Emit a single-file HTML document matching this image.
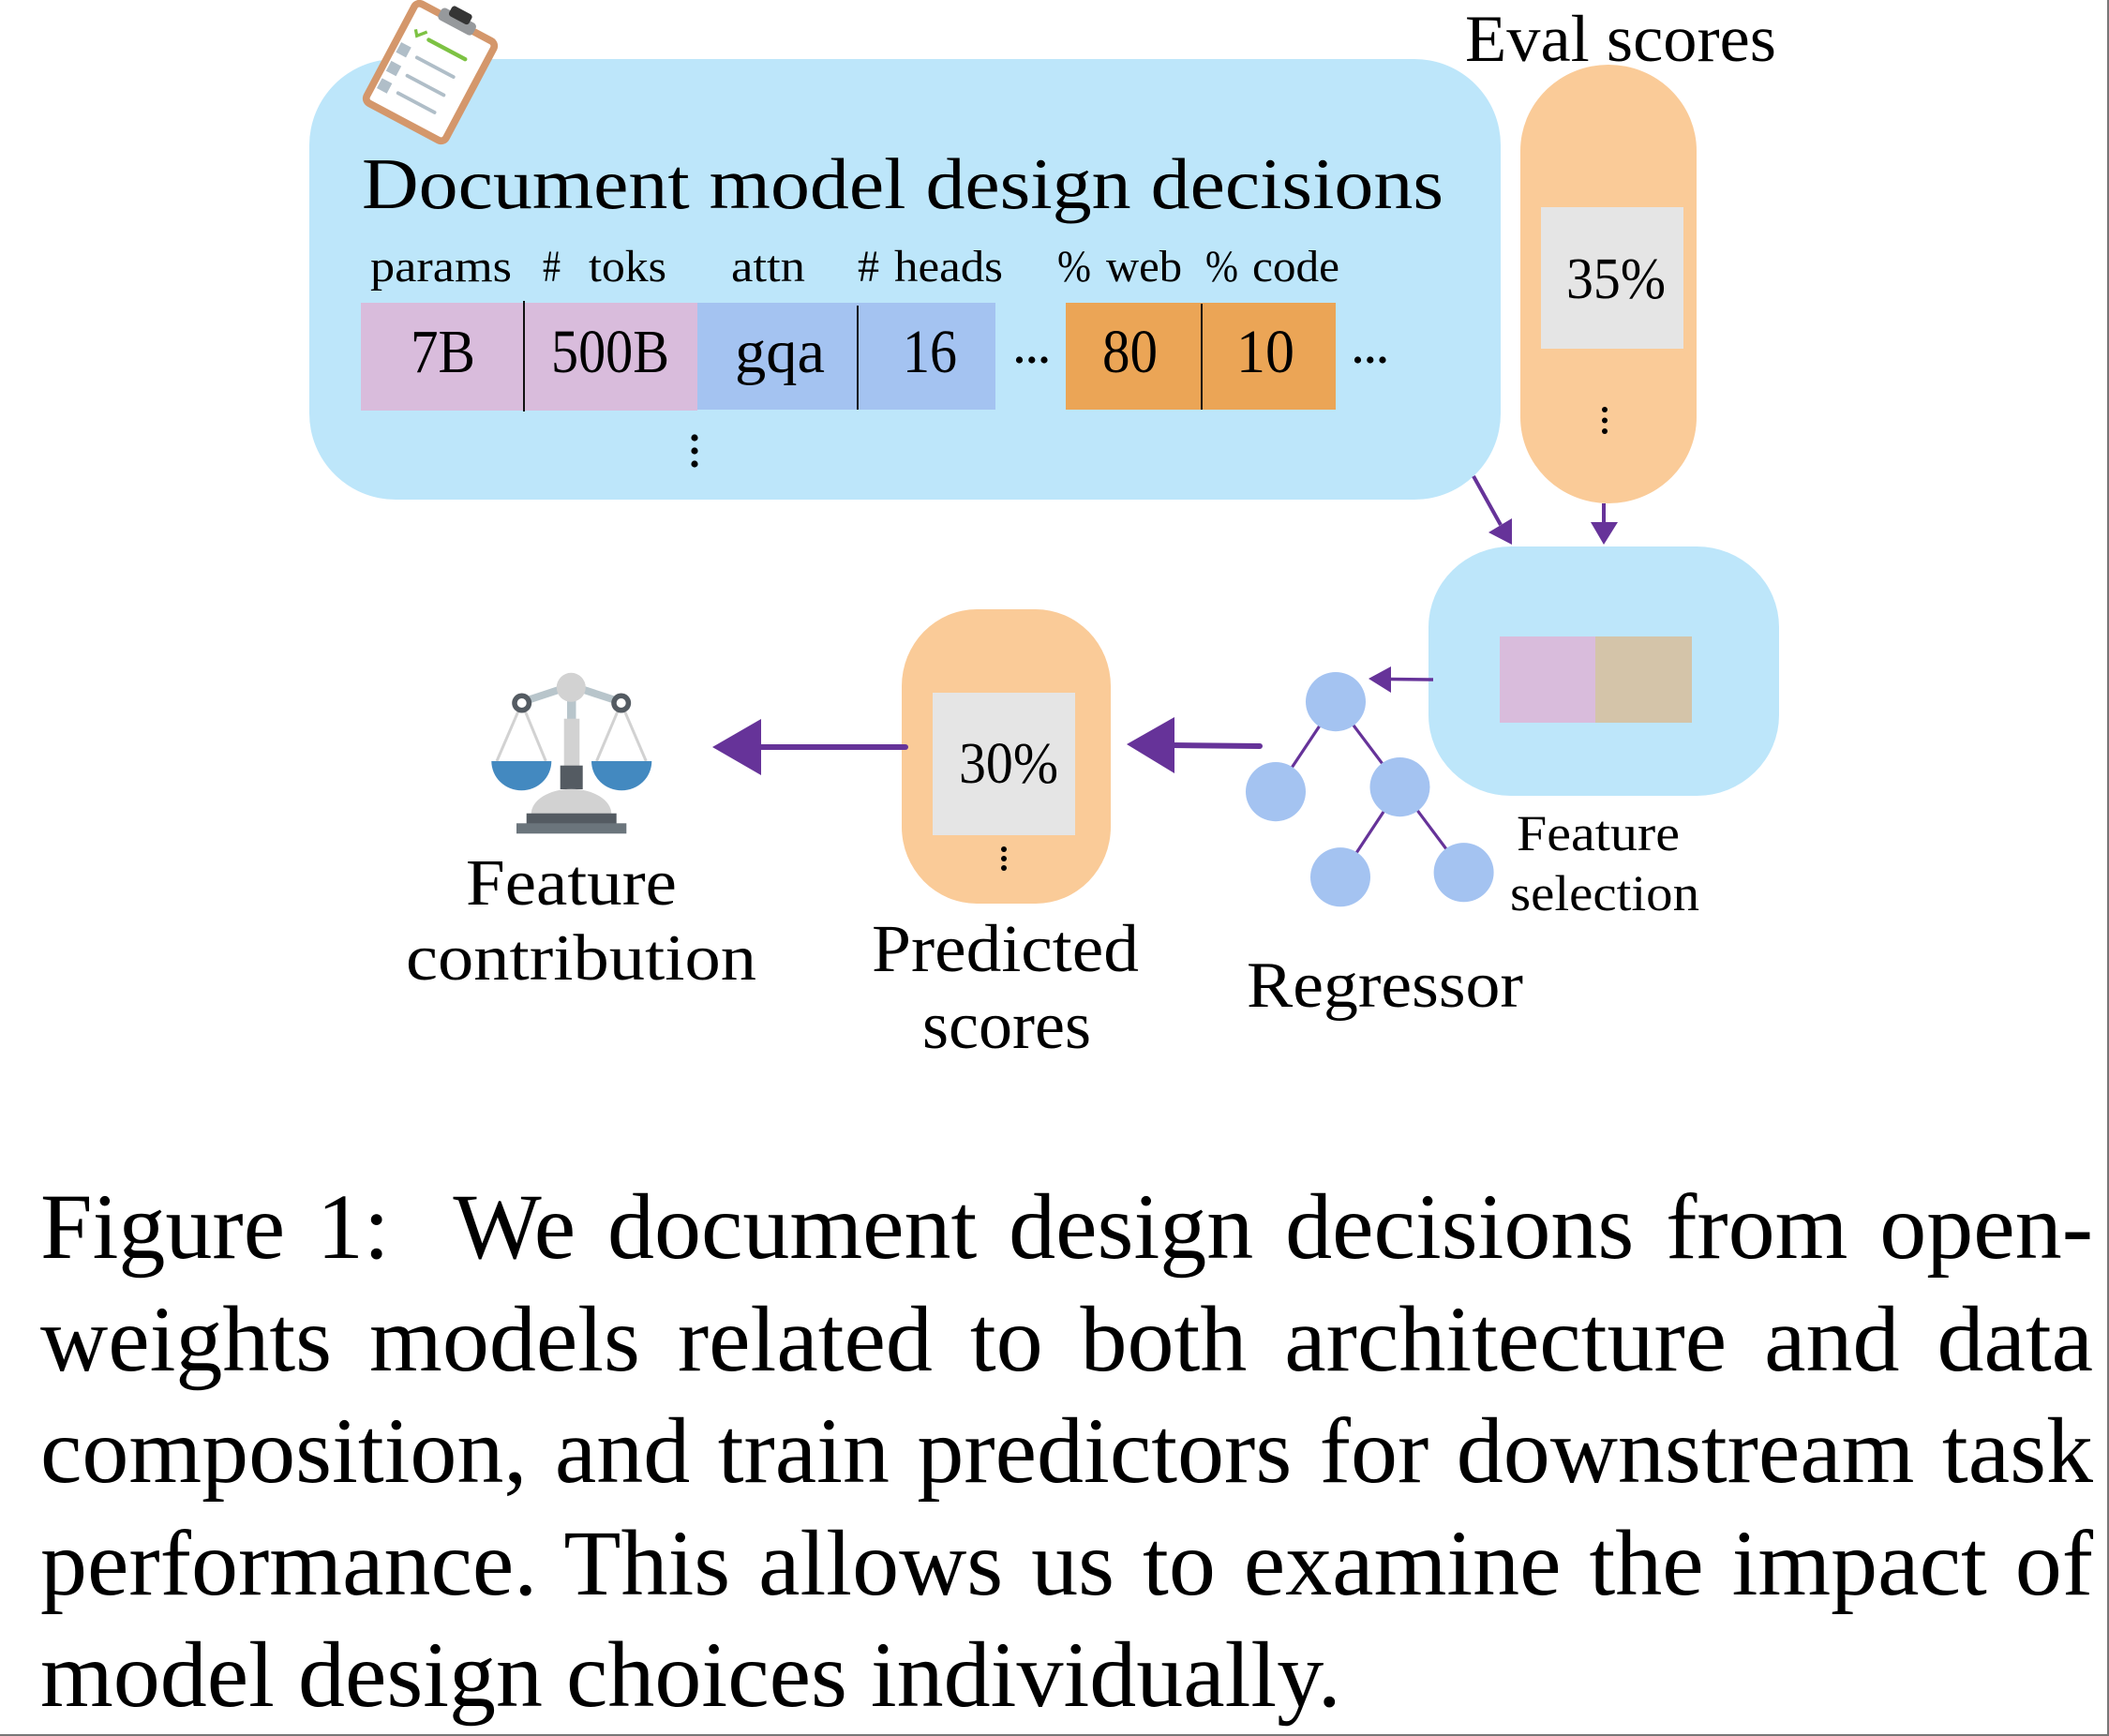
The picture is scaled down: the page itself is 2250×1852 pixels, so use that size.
<!DOCTYPE html>
<html>
<head>
<meta charset="utf-8">
<style>
html,body{margin:0;padding:0;background:#fff}
body{width:2250px;height:1852px;position:relative;overflow:hidden}
svg{position:absolute;left:0;top:0}
.cap{position:absolute;left:43px;width:2190px;font-family:"Liberation Serif","Times New Roman",serif;font-size:100px;line-height:100px;height:100px;white-space:nowrap;text-align:justify;text-align-last:justify;color:#000}
.cap.last{text-align:left;text-align-last:left}
.bR{position:absolute;right:0;top:0;width:2px;height:1852px;background:#777}
.bB{position:absolute;left:0;bottom:0;width:2250px;height:2px;background:#777}
</style>
</head>
<body>
<svg width="2250" height="1852" viewBox="0 0 2250 1852" xmlns="http://www.w3.org/2000/svg">
  <g font-family="'Liberation Serif', 'Times New Roman', serif" fill="#000">
  <!-- Big blue box -->
  <rect x="330" y="63" width="1271" height="470" rx="92" ry="92" fill="#bde6fa"/>

  <!-- Title -->
  <text x="386" y="222" font-size="77" textLength="1154" lengthAdjust="spacingAndGlyphs">Document model design decisions</text>

  <!-- Column labels -->
  <g font-size="48">
    <text x="395" y="300" textLength="151" lengthAdjust="spacingAndGlyphs">params</text>
    <text x="579" y="300" textLength="19" lengthAdjust="spacingAndGlyphs">#</text>
    <text x="628" y="300" textLength="83" lengthAdjust="spacingAndGlyphs">toks</text>
    <text x="780" y="300" textLength="79" lengthAdjust="spacingAndGlyphs">attn</text>
    <text x="915" y="300" textLength="23" lengthAdjust="spacingAndGlyphs">#</text>
    <text x="954" y="300" textLength="116" lengthAdjust="spacingAndGlyphs">heads</text>
    <text x="1128" y="300" textLength="36" lengthAdjust="spacingAndGlyphs">%</text>
    <text x="1180" y="300" textLength="81" lengthAdjust="spacingAndGlyphs">web</text>
    <text x="1286" y="300" textLength="35" lengthAdjust="spacingAndGlyphs">%</text>
    <text x="1336" y="300" textLength="93" lengthAdjust="spacingAndGlyphs">code</text>
  </g>

  <!-- Cells -->
  <rect x="385" y="323" width="359" height="115" fill="#d9bcdc"/>
  <rect x="744" y="323" width="318" height="114" fill="#a4c3f1"/>
  <rect x="1137" y="323" width="288" height="114" fill="#eba556"/>
  <line x1="559" y1="321" x2="559" y2="439" stroke="#111" stroke-width="2"/>
  <line x1="915" y1="326" x2="915" y2="437" stroke="#111" stroke-width="2"/>
  <line x1="1282" y1="324" x2="1282" y2="437" stroke="#111" stroke-width="2"/>

  <g font-size="66">
    <text x="438" y="397" textLength="69" lengthAdjust="spacingAndGlyphs">7B</text>
    <text x="588" y="397" textLength="126" lengthAdjust="spacingAndGlyphs">500B</text>
    <text x="784" y="397" textLength="96" lengthAdjust="spacingAndGlyphs">gqa</text>
    <text x="963" y="397" textLength="58" lengthAdjust="spacingAndGlyphs">16</text>
    <text x="1176" y="397" textLength="59" lengthAdjust="spacingAndGlyphs">80</text>
    <text x="1319" y="397" textLength="62" lengthAdjust="spacingAndGlyphs">10</text>
  </g>

  <!-- horizontal ellipses -->
  <circle cx="1087.5" cy="384" r="3.6"/><circle cx="1100.8" cy="384" r="3.6"/><circle cx="1114" cy="384" r="3.6"/>
  <circle cx="1448.5" cy="384" r="3.6"/><circle cx="1461.8" cy="384" r="3.6"/><circle cx="1475" cy="384" r="3.6"/>
  <!-- vertical dots big box -->
  <circle cx="741" cy="467" r="3.6"/><circle cx="741" cy="481" r="3.6"/><circle cx="741" cy="495" r="3.6"/>

  <!-- Clipboard icon -->
  <g transform="translate(459,77) rotate(28) scale(1.1)">
    <rect x="-47" y="-58" width="94" height="116" rx="9" ry="9" fill="#d4976b"/>
    <rect x="-40" y="-51" width="80" height="102" rx="2" fill="#ffffff"/>
    <rect x="-19" y="-62" width="38" height="13" rx="4" fill="#96999c"/>
    <rect x="-11" y="-68" width="22" height="11" rx="3" fill="#353535"/>
    <polyline points="-32,-30 -28,-25 -21,-33" fill="none" stroke="#7dc243" stroke-width="3"/>
    <line x1="-16" y1="-27" x2="24" y2="-27" stroke="#7dc243" stroke-width="4" stroke-linecap="round"/>
    <rect x="-38.5" y="-12.5" width="11" height="11" fill="#b0bec8"/>
    <line x1="-18" y1="-6.5" x2="22" y2="-6.5" stroke="#b0bec8" stroke-width="3.5" stroke-linecap="round"/>
    <rect x="-38.5" y="8" width="11" height="11" fill="#b0bec8"/>
    <line x1="-18" y1="13.5" x2="22" y2="13.5" stroke="#b0bec8" stroke-width="3.5" stroke-linecap="round"/>
    <rect x="-38.5" y="27" width="11" height="11" fill="#b0bec8"/>
    <line x1="-18" y1="32.5" x2="22" y2="32.5" stroke="#b0bec8" stroke-width="3.5" stroke-linecap="round"/>
  </g>

  <!-- Eval scores -->
  <text x="1563" y="65" font-size="71" textLength="332" lengthAdjust="spacingAndGlyphs">Eval scores</text>
  <rect x="1622" y="69" width="188" height="468" rx="94" ry="92" fill="#facb98"/>
  <rect x="1644" y="221" width="152" height="151" fill="#e5e5e5"/>
  <text x="1671" y="318" font-size="62" textLength="106" lengthAdjust="spacingAndGlyphs">35%</text>
  <circle cx="1712" cy="437" r="3"/><circle cx="1712" cy="448.5" r="3"/><circle cx="1712" cy="460" r="3"/>

  <!-- Arrows into feature selection -->
  <g stroke="#663399" stroke-width="4" fill="none">
    <line x1="1572" y1="508" x2="1601" y2="560"/>
    <line x1="1711" y1="537" x2="1711" y2="559"/>
  </g>
  <polygon points="1613,581 1613,553 1588,568" fill="#663399"/>
  <polygon points="1697,557 1726,557 1711,581" fill="#663399"/>

  <!-- Feature selection box -->
  <rect x="1524" y="583" width="374" height="266" rx="88" ry="86" fill="#bde6fa"/>
  <rect x="1600" y="679" width="102" height="92" fill="#d9bcdc"/>
  <rect x="1702" y="679" width="103" height="92" fill="#d4c4a9"/>
  <text x="1618" y="907" font-size="54" textLength="174" lengthAdjust="spacingAndGlyphs">Feature</text>
  <text x="1611" y="971" font-size="54" textLength="202" lengthAdjust="spacingAndGlyphs">selection</text>

  <!-- Arrow feature -> regressor -->
  <line x1="1529" y1="725" x2="1482" y2="724.5" stroke="#663399" stroke-width="3.5"/>
  <polygon points="1460,724 1484,711 1484,739" fill="#663399"/>

  <!-- Regressor tree -->
  <g stroke="#663399" stroke-width="3.2">
    <line x1="1425" y1="748.6" x2="1361" y2="844.6"/>
    <line x1="1425" y1="748.6" x2="1493.5" y2="839.6"/>
    <line x1="1493.5" y1="839.6" x2="1430" y2="935.7"/>
    <line x1="1493.5" y1="839.6" x2="1561.6" y2="930.7"/>
  </g>
  <g fill="#a4c3f1">
    <ellipse cx="1425" cy="748.6" rx="32" ry="31.6"/>
    <ellipse cx="1361" cy="844.6" rx="32" ry="31.6"/>
    <ellipse cx="1493.5" cy="839.6" rx="32" ry="31.6"/>
    <ellipse cx="1430" cy="935.7" rx="32" ry="31.6"/>
    <ellipse cx="1561.6" cy="930.7" rx="32" ry="31.6"/>
  </g>
  <text x="1330" y="1074" font-size="70" textLength="295" lengthAdjust="spacingAndGlyphs">Regressor</text>

  <!-- Arrow regressor -> predicted -->
  <line x1="1250" y1="795" x2="1344" y2="796" stroke="#663399" stroke-width="6" stroke-linecap="round"/>
  <polygon points="1202,794 1253,765 1253,825" fill="#663399"/>

  <!-- Predicted scores -->
  <rect x="962" y="650" width="223" height="314" rx="80" ry="82" fill="#facb98"/>
  <rect x="995" y="739" width="152" height="152" fill="#e5e5e5"/>
  <text x="1023" y="835" font-size="62" textLength="106" lengthAdjust="spacingAndGlyphs">30%</text>
  <circle cx="1071" cy="906" r="3"/><circle cx="1071" cy="916" r="3"/><circle cx="1071" cy="926" r="3"/>
  <text x="930" y="1036" font-size="72" textLength="285" lengthAdjust="spacingAndGlyphs">Predicted</text>
  <text x="984" y="1118" font-size="72" textLength="180" lengthAdjust="spacingAndGlyphs">scores</text>

  <!-- Arrow predicted -> contribution -->
  <line x1="810" y1="797" x2="966" y2="797" stroke="#663399" stroke-width="6" stroke-linecap="round"/>
  <polygon points="760,797 812,767 812,827" fill="#663399"/>

  <!-- Scale icon -->
  <g>
    <g stroke="#d2d2d2" stroke-width="3">
      <line x1="556.7" y1="750" x2="530" y2="812"/>
      <line x1="556.7" y1="750" x2="582.3" y2="812"/>
      <line x1="662.7" y1="750" x2="636.5" y2="812"/>
      <line x1="662.7" y1="750" x2="689.3" y2="812"/>
    </g>
    <g stroke="#b8c5cb" stroke-width="8">
      <line x1="556.7" y1="749" x2="605" y2="733"/>
      <line x1="662.7" y1="749" x2="614" y2="733"/>
    </g>
    <circle cx="556.7" cy="750" r="10.5" fill="#545b62"/>
    <circle cx="556.7" cy="750" r="5" fill="#fff"/>
    <circle cx="662.7" cy="750" r="10.5" fill="#545b62"/>
    <circle cx="662.7" cy="750" r="5" fill="#fff"/>
    <rect x="605" y="744" width="9.5" height="24" fill="#b8c5cb"/>
    <circle cx="609.3" cy="733.3" r="15.5" fill="#d2d2d2"/>
    <rect x="601.7" y="766.7" width="16.6" height="52" fill="#d2d2d2"/>
    <rect x="597.7" y="816.7" width="24" height="25.3" fill="#545b62"/>
    <path d="M566.7,868.3 A42.8,26.6 0 0 1 652.3,868.3 Z" fill="#d2d2d2"/>
    <rect x="561.7" y="867.7" width="96" height="10.8" fill="#545b62"/>
    <rect x="551" y="878.3" width="117.3" height="11" fill="#6b757c"/>
    <path d="M524.3,812 L588.3,812 A32,31.3 0 0 1 524.3,812 Z" fill="#4389c0"/>
    <path d="M631,812 L695.3,812 A32.15,31.3 0 0 1 631,812 Z" fill="#4389c0"/>
  </g>
  <text x="497" y="965" font-size="70" textLength="225" lengthAdjust="spacingAndGlyphs">Feature</text>
  <text x="433" y="1045" font-size="70" textLength="374" lengthAdjust="spacingAndGlyphs">contribution</text>
  </g>
</svg>

<div class="cap" style="top:1259px">Figure 1: &nbsp;We document design decisions from open-</div>
<div class="cap" style="top:1379px">weights models related to both architecture and data</div>
<div class="cap" style="top:1498px">composition, and train predictors for downstream task</div>
<div class="cap" style="top:1618px">performance. This allows us to examine the impact of</div>
<div class="cap last" style="top:1737px">model design choices individually.</div>

<div class="bR"></div>
<div class="bB"></div>
</body>
</html>
